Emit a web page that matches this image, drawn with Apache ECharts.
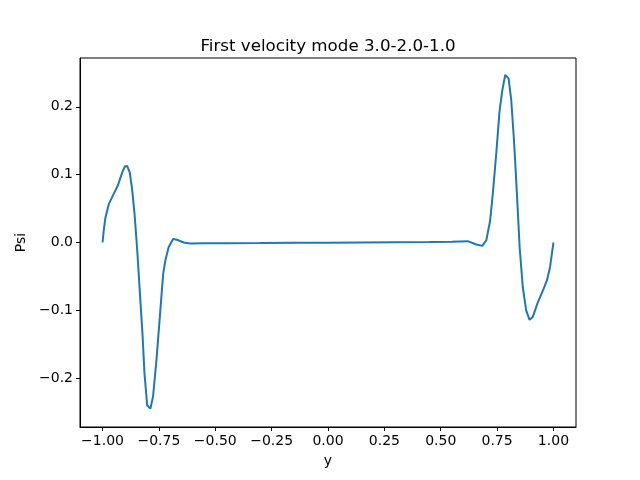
<!DOCTYPE html>
<html>
<head>
<meta charset="utf-8">
<script src="https://cdn.jsdelivr.net/npm/echarts@6/dist/echarts.min.js"></script>
<style>
  html, body { margin: 0; padding: 0; background: #fff; }
  #main { width: 640px; height: 480px; }
</style>
</head>
<body>
<div id="main"></div>
<script>
// first velocity mode
var ys = [-1.0, -0.994, -0.987, -0.972, -0.95, -0.932, -0.913, -0.901, -0.891, -0.879, -0.869, -0.858,
  -0.846, -0.835, -0.823, -0.814, -0.802, -0.788, -0.776, -0.761, -0.746, -0.731, -0.721, -0.707,
  -0.687, -0.670, -0.640, -0.611, -0.55, -0.45, -0.3, -0.15, 0, 0.15, 0.3, 0.45, 0.55, 0.62,
  0.658, 0.684, 0.702, 0.719, 0.731, 0.746, 0.761, 0.773, 0.786, 0.801, 0.813, 0.825, 0.838,
  0.85, 0.864, 0.879, 0.894, 0.908, 0.931, 0.953, 0.971, 0.985, 1.0];
var psi = [0, 0.02, 0.037, 0.057, 0.072, 0.084, 0.103, 0.112, 0.113, 0.103, 0.079, 0.042,
  -0.012, -0.071, -0.134, -0.193, -0.24, -0.245, -0.227, -0.174, -0.11, -0.046, -0.026, -0.007,
  0.005, 0.004, 0.0, -0.0015, -0.001, -0.001, -0.0008, -0.0005, -0.0003, 0, 0.0003, 0.0006, 0.001, 0.002,
  -0.003, -0.005, 0.003, 0.032, 0.072, 0.13, 0.194, 0.224, 0.247, 0.242, 0.209, 0.15, 0.072,
  -0.007, -0.066, -0.1, -0.114, -0.11, -0.088, -0.071, -0.056, -0.036, 0];

var xTicks = [-1, -0.75, -0.5, -0.25, 0, 0.25, 0.5, 0.75, 1];
var yTicks = [-0.2, -0.1, 0, 0.1, 0.2];

var chart = echarts.init(document.getElementById('main'));

function fmt(d) {
  return function (v) { return v.toFixed(d).replace('-', '\u2212'); };
}

var font = 'DejaVu Sans';
var pts = ys.map(function (y, i) { return [y, psi[i]]; });

var option = {
  animation: false,
  textStyle: { fontFamily: font },
  title: {
    text: 'First velocity mode 3.0-2.0-1.0',
    left: 323, textAlign: 'center', top: 33,
    textStyle: { fontFamily: font, fontSize: 16.7, fontWeight: 'normal', color: '#000' }
  },
  grid: {
    left: 80, right: 64, top: 58, bottom: 53,
    show: true, borderColor: '#000', borderWidth: 1, backgroundColor: 'transparent'
  },
  xAxis: {
    type: 'value', min: -1.1, max: 1.1,
    name: 'y', nameLocation: 'middle', nameGap: 27,
    nameTextStyle: { fontFamily: font, fontSize: 14, color: '#000' },
    splitLine: { show: false },
    axisLine: { show: true, onZero: false, lineStyle: { color: '#000', width: 1 } },
    axisTick: { show: true, length: 4, customValues: xTicks, lineStyle: { color: '#000' } },
    axisLabel: { customValues: xTicks, formatter: fmt(2), margin: 7, fontSize: 14, color: '#000', fontFamily: font }
  },
  yAxis: {
    type: 'value', min: -0.272, max: 0.272,
    name: 'Psi', nameLocation: 'middle', nameGap: 42, nameRotate: 90,
    nameTextStyle: { fontFamily: font, fontSize: 14, color: '#000' },
    splitLine: { show: false },
    axisLine: { show: true, onZero: false, lineStyle: { color: '#000', width: 1 } },
    axisTick: { show: true, length: 4, customValues: yTicks, lineStyle: { color: '#000' } },
    axisLabel: { customValues: yTicks, formatter: fmt(1), margin: 7, fontSize: 14, color: '#000', fontFamily: font }
  },
  series: [{
    type: 'line',
    data: pts,
    showSymbol: false,
    smooth: false,
    lineStyle: { color: '#1f77b4', width: 2 },
    itemStyle: { color: '#1f77b4' }
  }]
};

chart.setOption(option);
</script>
</body>
</html>
